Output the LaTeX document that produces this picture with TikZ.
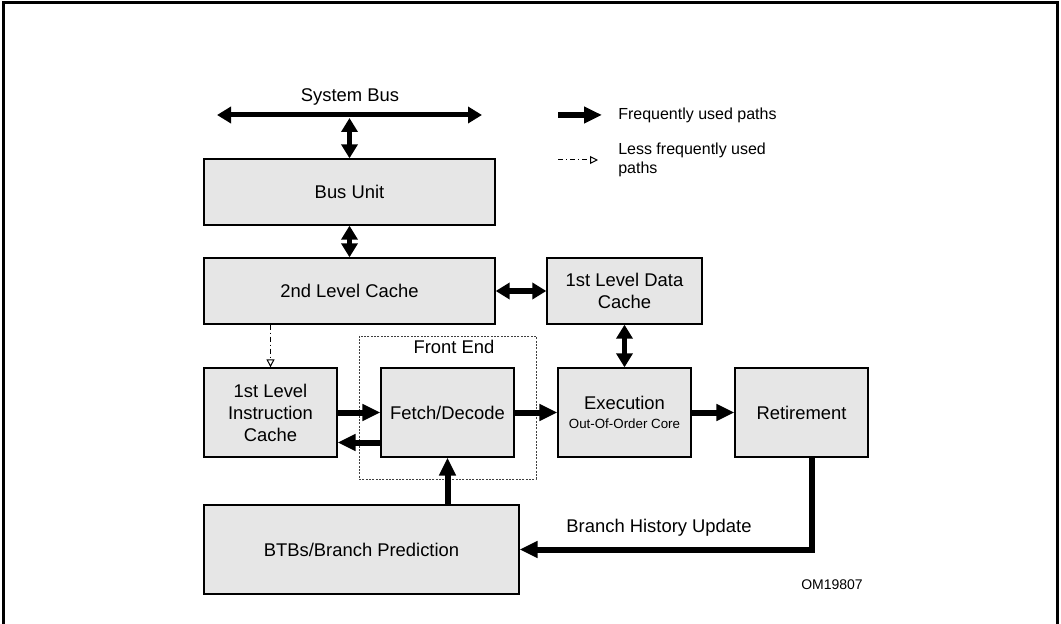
\documentclass[tikz,border=0pt]{standalone}
\usepackage{fontspec}
\setmainfont{Liberation Sans}
\usepackage{tikz}
\usetikzlibrary{arrows.meta}
\definecolor{unitgray}{RGB}{230,230,230}

\begin{document}
\begin{tikzpicture}[x=0.75pt,y=-0.75pt,
	unit/.style={draw,line width=1pt,fill=unitgray,align=center,inner sep=0pt,font=\fontsize{13.8}{16.5}\selectfont},
	smallunit/.style={unit,minimum width=99.75pt,minimum height=66.75pt},
	main/.style={line width=4.5pt,-{Triangle[length=13.5pt,width=12pt]}},
	both/.style={line width=3.75pt,{Triangle[length=10.5pt,width=12pt]}-{Triangle[length=10.5pt,width=12pt]}},
	rare/.style={line width=0.75pt,dash pattern=on 4pt off 2pt on 1pt off 2pt,-{Triangle[open,length=6pt,width=6pt]}},
	lbl/.style={font=\fontsize{13.8}{16.5}\selectfont,inner sep=0pt},
	keytext/.style={font=\fontsize{12}{14.25}\selectfont,inner sep=0pt,anchor=west,align=left}]
		\useasboundingbox (0,0) rectangle (1061,624);
%		\draw[help lines] (0,0) grid (1061,624);
		\path (3,624) coordinate (frame_lb);
		\path (3,3) coordinate (frame_lt);
		\path (1057,3) coordinate (frame_rt);
		\path (1057,624) coordinate (frame_rb);
		\path (217,115) coordinate (sysbus_left);
		\path (482,115) coordinate (sysbus_right);
		\path (349.5,118) coordinate (sysbus_mid);
		\path (558,115) coordinate (key_often_left);
		\path (602,115) coordinate (key_often_right);
		\path (558,160) coordinate (key_rare_left);
		\path (598,160) coordinate (key_rare_right);

		\draw[line width=2.25pt] (frame_lb) -- (frame_lt) -- (frame_rt) -- (frame_rb);

		% units
		\node[unit,minimum width=218.25pt,minimum height=49.5pt] (bus) at (349.5,192) {Bus Unit};
		\node[unit,minimum width=218.25pt,minimum height=49.5pt] (l2) at (349.5,291) {2nd Level Cache};
		\node[unit,minimum width=116.25pt,minimum height=49.5pt] (l1d) at (624.5,291) {1st Level Data\\Cache};
		\node[smallunit] (l1i) at (270.5,412.5) {1st Level\\Instruction\\Cache};
		\node[smallunit] (fetch) at (447.5,412.5) {Fetch/Decode};
		\node[smallunit] (exec) at (624.5,412.5) {Execution\\[-2pt]{\fontsize{10}{12}\selectfont Out-Of-Order Core}};
		\node[smallunit] (retire) at (801.5,412.5) {Retirement};
		\node[unit,minimum width=236.25pt,minimum height=66.75pt] (btb) at (361.5,549.5) {BTBs/Branch Prediction};
		\node[draw=black!75,line width=0.6pt,dash pattern=on 1.5pt off 1pt,minimum width=132.75pt,minimum height=107.25pt,inner sep=0pt] (front) at (447.5,407.5) {};

		\draw (350,97) node[lbl] (sysbus) {System Bus};
		\draw (454,347) node[lbl] (frontlabel) {Front End};
		\draw (659,528) node[lbl] (history) {Branch History Update};
		\draw (832,585) node[inner sep=0pt,font=\fontsize{10.5}{12}\selectfont] (figid) {OM19807};

		% paths
		\draw[both] (sysbus_left) -- (sysbus_right);
		\draw[both] (bus.north) -- (sysbus_mid);
		\draw[both] (bus.south) -- (l2.north);
		\draw[both] (l2.east) -- (l1d.west);
		\draw[both] (l1d.south) -- (exec.north);
		\draw[rare] (l2.south -| l1i.north) -- (l1i.north);
		\draw[main] (l1i.east) -- (fetch.west);
		\draw[main] ([yshift=-22.5pt]fetch.west) -- ([yshift=-22.5pt]l1i.east);
		\draw[main] (fetch.east) -- (exec.west);
		\draw[main] (exec.east) -- (retire.west);
		\draw[main] (btb.north -| fetch.south) -- (fetch.south);
		\draw[main] ([xshift=7.9pt]retire.south) |- (btb.east);

		% key
		\draw[main] (key_often_left) -- (key_often_right);
		\draw (618,115) node[keytext] (key_often) {Frequently used paths};
		\draw[rare] (key_rare_left) -- (key_rare_right);
		\draw (618,160) node[keytext] (key_rare) {Less frequently used\\paths};
	\end{tikzpicture}
\end{document}
